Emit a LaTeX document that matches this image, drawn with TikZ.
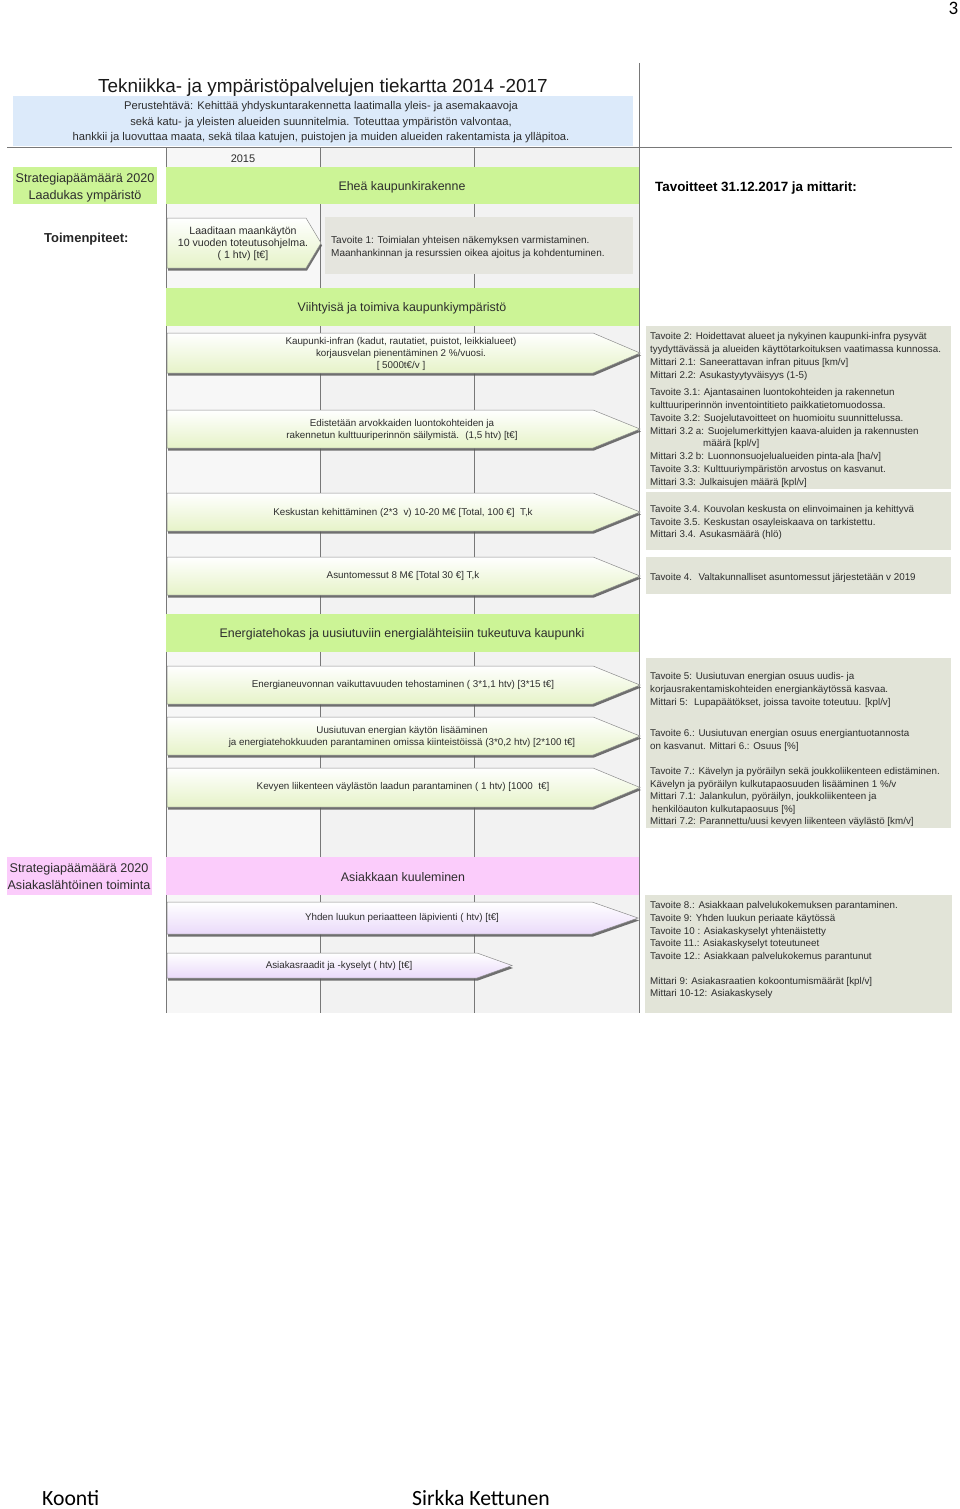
\documentclass[tikz,border=0pt]{standalone}
\usepackage{fontspec}
\setmainfont{Liberation Sans}
\newfontfamily\calfont{Carlito}
\definecolor{bandgreen}{RGB}{204,244,150}
\definecolor{bandpink}{RGB}{251,204,251}
\definecolor{boxgrey}{RGB}{226,228,216}
\definecolor{boxgreyB}{RGB}{229,229,222}
\definecolor{lightblue}{RGB}{220,234,250}
\definecolor{txt}{RGB}{45,45,45}
\definecolor{linec}{RGB}{120,120,120}
\definecolor{arrgreen}{RGB}{230,243,200}
\definecolor{arrpink}{RGB}{234,218,250}
\definecolor{colA}{RGB}{247,247,247}
\definecolor{colB}{RGB}{242,242,242}
\tikzset{
  gline/.style={draw=linec, line width=0.7pt},
  smalltxt/.style={font=\fontsize{9.8}{12.8}\selectfont, anchor=base west, inner sep=0pt, text=txt},
  arrtxt/.style={font=\fontsize{9.8}{12}\selectfont, align=center, inner sep=0pt, text=txt},
  bandtxt/.style={font=\fontsize{12.4}{14}\selectfont, inner sep=0pt, anchor=base, text=txt},
  labtxt/.style={font=\fontsize{12.6}{16.8}\selectfont, inner sep=0pt, align=center, anchor=base, text=txt},
  sigshadow/.style={fill=black!65, opacity=0.85},
  sigbody/.style={draw=black!45, line width=0.5pt, top color=white},
}
\newcommand\sigarrow[6]{%
  \fill[sigshadow] ({#2+1},{#3+2.5}) -- ({#5+1},{#3+2.5}) -- ({#6+1},{(#3+#4)/2+2.5}) -- ({#5+1},{#4+2.5}) -- ({#2+1},{#4+2.5}) -- cycle;
  \path[sigbody, bottom color=#1] (#2,#3) -- (#5,#3) -- (#6,{(#3+#4)/2}) -- (#5,#4) -- (#2,#4) -- cycle;
}
% #1 name, #2 x, #3 first baseline, #4 line skip, #5 list of lines
\newcommand\txtlines[5]{%
  \foreach \ln [count=\i from 0] in {#5} \node[smalltxt] (#1-\i) at (#2,{#3+\i*#4}) {\ln};
}
\begin{document}
\begin{tikzpicture}[x=1pt,y=-1pt]
\useasboundingbox (0,0) rectangle (960,1509);
% page number
\node[font=\calfont\fontsize{19}{22}\selectfont, anchor=base east, inner sep=0pt] (pnum) at (958.5,14.5) {3};
% column backgrounds
\fill[colA] (166,147) rectangle (320,1013);
\fill[colB] (320,147) rectangle (639,1013);
% grid lines
\draw[gline] (7,147) -- (952,147);
\draw[gline] (639,63) -- (639,1013);
\foreach \cx in {166,320,474} \draw[gline] (\cx,147) -- (\cx,1013);
% title
\node[font=\fontsize{18.9}{22}\selectfont, anchor=base, inner sep=0pt, text=black!90] (title) at (323,92.5) {Tekniikka- ja ympäristöpalvelujen tiekartta 2014 -2017};
\fill[lightblue] (13,96) rectangle (633,146);
\node[font=\fontsize{11.2}{15.5}\selectfont, anchor=base, inner sep=0pt, text=txt] (perus1) at (321,110) {Perustehtävä: Kehittää yhdyskuntarakennetta laatimalla yleis- ja asemakaavoja};
\node[font=\fontsize{11.2}{15.5}\selectfont, anchor=base, inner sep=0pt, text=txt] (perus2) at (321,125.5) {sekä katu- ja yleisten alueiden suunnitelmia. Toteuttaa ympäristön valvontaa,};
\node[font=\fontsize{11.2}{15.5}\selectfont, anchor=base, inner sep=0pt, text=txt] (perus3) at (321,141) {hankkii ja luovuttaa maata, sekä tilaa katujen, puistojen ja muiden alueiden rakentamista ja ylläpitoa.};
\node[font=\fontsize{11}{13}\selectfont, anchor=base, inner sep=0pt, text=txt] (y2015) at (243,162) {2015};
% strategy 1
\fill[bandgreen] (13,167) rectangle (157,204);
\node[labtxt] (strat1) at (85,199) {Strategiapäämäärä 2020\\Laadukas ympäristö};
\fill[bandgreen] (166,167) rectangle (639,204);
\node[bandtxt] (eheä) at (402,190) {Eheä kaupunkirakenne};
\node[font=\bfseries\fontsize{13.4}{16}\selectfont, anchor=base west, inner sep=0pt] (tavoitteet) at (655,191) {Tavoitteet 31.12.2017 ja mittarit:};
\node[font=\bfseries\fontsize{13}{16}\selectfont, anchor=base west, inner sep=0pt, text=black!85] (toimen) at (44,242) {Toimenpiteet:};
% row 1
\sigarrow{arrgreen}{167}{218}{268}{306}{321}
\node[arrtxt, font=\fontsize{10.6}{12}\selectfont] (a1) at (243,244) {Laaditaan maankäytön\\10 vuoden toteutusohjelma.\\( 1 htv) [t€]};
\fill[boxgreyB] (325,217) rectangle (633,274);
\node[smalltxt, font=\fontsize{10}{13}\selectfont] (t1a) at (331,243.5) {Tavoite 1: Toimialan yhteisen näkemyksen varmistaminen.};
\node[smalltxt, font=\fontsize{10}{13}\selectfont] (t1b) at (331,256.5) {Maanhankinnan ja resurssien oikea ajoitus ja kohdentuminen.};
% Viihtyisa
\fill[bandgreen] (166,288) rectangle (639,326);
\node[bandtxt] (viiht) at (402,311) {Viihtyisä ja toimiva kaupunkiympäristö};
\sigarrow{arrgreen}{167}{333}{373}{593}{640}
\node[arrtxt] (a2) at (401,354) {Kaupunki-infran (kadut, rautatiet, puistot, leikkialueet)\\korjausvelan pienentäminen 2 \%/vuosi.\\{[} 5000t€/v ]};
\sigarrow{arrgreen}{167}{410}{448}{593}{640}
\node[arrtxt] (a3) at (402,430) {Edistetään arvokkaiden luontokohteiden ja\\rakennetun kulttuuriperinnön säilymistä.~ (1,5 htv) [t€]};
\sigarrow{arrgreen}{167}{493}{531}{593}{640}
\node[arrtxt] (a4) at (403,512.5) {Keskustan kehittäminen (2*3~ v) 10-20 M€ [Total, 100 €]~ T,k};
\sigarrow{arrgreen}{167}{557}{595}{593}{640}
\node[arrtxt] (a5) at (403,576) {Asuntomessut 8 M€ [Total 30 €] T,k};
% right boxes 2-4
\fill[boxgrey] (646,326) rectangle (951,489);
\txtlines{t2}{650}{339.5}{13}{{Tavoite 2: Hoidettavat alueet ja nykyinen kaupunki-infra pysyvät},{tyydyttävässä ja alueiden käyttötarkoituksen vaatimassa kunnossa.},{Mittari 2.1: Saneerattavan infran pituus [km/v]},{Mittari 2.2: Asukastyytyväisyys (1-5)}}
\txtlines{t3}{650}{395.5}{12.86}{{Tavoite 3.1: Ajantasainen luontokohteiden ja rakennetun},{kulttuuriperinnön inventointitieto paikkatietomuodossa.},{Tavoite 3.2: Suojelutavoitteet on huomioitu suunnittelussa.},{Mittari 3.2 a: Suojelumerkittyjen kaava-aluiden ja rakennusten},{\hspace*{53pt}määrä [kpl/v]},{Mittari 3.2 b: Luonnonsuojelualueiden pinta-ala [ha/v]},{Tavoite 3.3: Kulttuuriympäristön arvostus on kasvanut.},{Mittari 3.3: Julkaisujen määrä [kpl/v]}}
\fill[boxgrey] (646,492) rectangle (951,550);
\txtlines{t34}{650}{512.5}{12.5}{{Tavoite 3.4. Kouvolan keskusta on elinvoimainen ja kehittyvä},{Tavoite 3.5. Keskustan osayleiskaava on tarkistettu.},{Mittari 3.4. Asukasmäärä (hlö)}}
\fill[boxgrey] (646,557) rectangle (951,594);
\node[smalltxt] (t4) at (650,580) {Tavoite 4.~ Valtakunnalliset asuntomessut järjestetään v 2019};
% Energia
\fill[bandgreen] (166,614) rectangle (639,652);
\node[bandtxt] (energia) at (402,637) {Energiatehokas ja uusiutuviin energialähteisiin tukeutuva kaupunki};
\sigarrow{arrgreen}{167}{666}{704}{593}{640}
\node[arrtxt] (a6) at (403,685) {Energianeuvonnan vaikuttavuuden tehostaminen ( 3*1,1 htv) [3*15 t€]};
\sigarrow{arrgreen}{167}{717}{755}{593}{640}
\node[arrtxt] (a7) at (402,737) {Uusiutuvan energian käytön lisääminen\\ja energiatehokkuuden parantaminen omissa kiinteistöissä (3*0,2 htv) [2*100 t€]};
\sigarrow{arrgreen}{167}{768}{807}{593}{640}
\node[arrtxt] (a8) at (403,787) {Kevyen liikenteen väylästön laadun parantaminen ( 1 htv) [1000~ t€]};
\fill[boxgrey] (646,658) rectangle (951,828);
\txtlines{t5}{650}{679.5}{13}{{Tavoite 5: Uusiutuvan energian osuus uudis- ja},{korjausrakentamiskohteiden energiankäytössä kasvaa.},{Mittari 5:~ Lupapäätökset, joissa tavoite toteutuu. [kpl/v]}}
\txtlines{t6}{650}{736.5}{13}{{Tavoite 6.: Uusiutuvan energian osuus energiantuotannosta},{on kasvanut. Mittari 6.: Osuus [\%]}}
\txtlines{t7}{650}{774.5}{12.5}{{Tavoite 7.: Kävelyn ja pyöräilyn sekä joukkoliikenteen edistäminen.},{Kävelyn ja pyöräilyn kulkutapaosuuden lisääminen 1 \%/v},{Mittari 7.1: Jalankulun, pyöräilyn, joukkoliikenteen ja},{\hspace*{2pt}henkilöauton kulkutapaosuus [\%]},{Mittari 7.2: Parannettu/uusi kevyen liikenteen väylästö [km/v]}}
% Asiakas
\fill[bandpink] (7,857) rectangle (152,895);
\node[labtxt] (strat2) at (79,889) {Strategiapäämäärä 2020\\Asiakaslähtöinen toiminta};
\fill[bandpink] (166,857) rectangle (639,895);
\node[bandtxt] (asiakas) at (403,881) {Asiakkaan kuuleminen};
\sigarrow{arrpink}{167}{902}{934}{592}{638}
\node[arrtxt] (a9) at (402,918) {Yhden luukun periaatteen läpivienti ( htv) [t€]};
\sigarrow{arrpink}{167}{953}{978}{477}{512}
\node[arrtxt] (a10) at (339,966) {Asiakasraadit ja -kyselyt ( htv) [t€]};
\fill[boxgrey] (645,895) rectangle (952,1013);
\txtlines{t8}{650}{908.5}{12.75}{{Tavoite 8.: Asiakkaan palvelukokemuksen parantaminen.},{Tavoite 9: Yhden luukun periaate käytössä},{Tavoite 10 : Asiakaskyselyt yhtenäistetty},{Tavoite 11.: Asiakaskyselyt toteutuneet},{Tavoite 12.: Asiakkaan palvelukokemus parantunut}}
\txtlines{m8}{650}{984}{12.75}{{Mittari 9: Asiakasraatien kokoontumismäärät [kpl/v]},{Mittari 10-12: Asiakaskysely}}
% footer
\node[font=\calfont\fontsize{21.7}{26}\selectfont, anchor=base west, inner sep=0pt] (koonti) at (42,1505) {Koonti};
\node[font=\calfont\fontsize{21.7}{26}\selectfont, anchor=base west, inner sep=0pt] (sirkka) at (412,1505) {Sirkka Kettunen};
\end{tikzpicture}
\end{document}
